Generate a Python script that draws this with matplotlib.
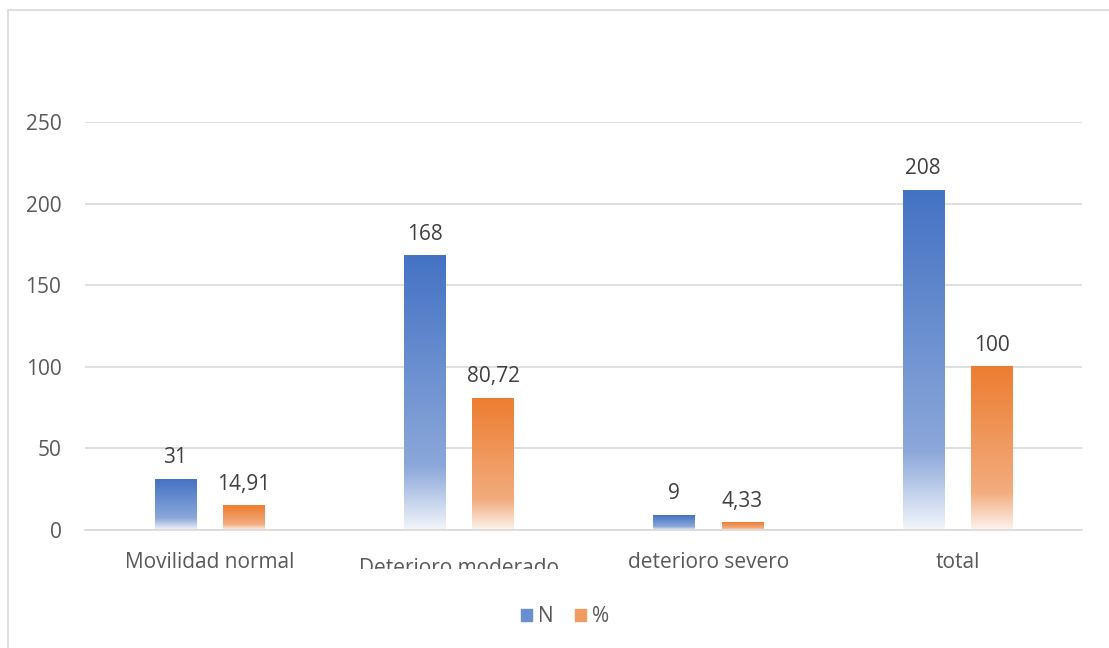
import numpy as np
import matplotlib.pyplot as plt
from matplotlib.colors import LinearSegmentedColormap
from matplotlib.patches import Rectangle
from matplotlib.transforms import ScaledTranslation

categories = ["Movilidad normal", "Deterioro moderado", "deterioro severo", "total"]
n_vals = [31, 168, 9, 208]
pct_vals = [14.91, 80.72, 4.33, 100]
n_labels = ["31", "168", "9", "208"]
pct_labels = ["14,91", "80,72", "4,33", "100"]

plt.rcParams['font.family'] = ['Open Sans', 'DejaVu Sans']

fig = plt.figure(figsize=(11.09, 6.48), dpi=100)
ax = fig.add_axes([85 / 1109, 1 - 530 / 648, 997 / 1109, 408 / 648])

# gradient fills: strong colour at top, lighter towards bottom, fading out near the base
blue_cmap = LinearSegmentedColormap.from_list(
    "nblue", [(0, "#4472C4"), (0.77, "#8CA8DA"), (1.0, "#F2F5FB")])
orange_cmap = LinearSegmentedColormap.from_list(
    "norange", [(0, "#ED7D31"), (0.77, "#F2AC7E"), (1.0, "#FDF4EE")])

x = np.arange(len(categories))
width = 0.165
off = 0.137
bars_n = ax.bar(x - off, n_vals, width, color="none")
bars_p = ax.bar(x + off, pct_vals, width, color="none")

grad = np.linspace(0, 1, 256).reshape(-1, 1)
for bars, cmap in [(bars_n, blue_cmap), (bars_p, orange_cmap)]:
    for r in bars:
        x0, w, h = r.get_x(), r.get_width(), r.get_height()
        ax.imshow(grad, cmap=cmap, aspect="auto", origin="upper",
                  extent=(x0, x0 + w, 0, h), zorder=2, interpolation="bilinear")

for bars, labels in [(bars_n, n_labels), (bars_p, pct_labels)]:
    for r, lab in zip(bars, labels):
        ax.annotate(lab, (r.get_x() + r.get_width() / 2, r.get_height()),
                    xytext=(0, 8), textcoords="offset points", ha="center",
                    va="bottom", fontsize=15, color="#404040")

ax.set_xlim(-0.5, 3.5)
ax.set_ylim(0, 250)
ax.set_yticks([0, 50, 100, 150, 200, 250])
ax.set_xticks(x)
ax.set_xticklabels(categories)
ax.tick_params(axis="both", length=0, labelsize=15, labelcolor="#595959")
ax.tick_params(axis="y", pad=17)
ax.tick_params(axis="x", pad=16)
ax.yaxis.grid(True, color="#D9D9D9", linewidth=1.2)
ax.set_axisbelow(True)
for s in ["top", "right", "left"]:
    ax.spines[s].set_visible(False)
ax.spines["bottom"].set_color("#D9D9D9")
ax.spines["bottom"].set_linewidth(1.2)
ax.set_zorder(1)

# second category label sits a little lower and is cut off at the bottom
lab = ax.get_xticklabels()[1]
lab.set_transform(lab.get_transform() + ScaledTranslation(0, -4 / 72, fig.dpi_scale_trans))
clip = Rectangle((0, 1 - 569 / 648), 1, 1, transform=fig.transFigure)
lab.set_clip_path(clip)

handles = [Rectangle((0, 0), 1, 1, color="#6A8FD0"),
           Rectangle((0, 0), 1, 1, color="#F09B62")]
fig.legend(handles, ["N", "%"], loc="center", bbox_to_anchor=(565 / 1109, 1 - 617 / 648),
           ncol=2, frameon=False, fontsize=15, labelcolor="#595959",
           handlelength=0.55, handleheight=0.55, handletextpad=0.3, columnspacing=1.0)

# light outer frame around the chart
fig.patches.append(Rectangle((8 / 1109, -0.05), 1.1, 1 - 10 / 648 + 0.05,
                             transform=fig.transFigure, fill=False,
                             edgecolor="#D9D9D9", linewidth=1.2))

fig.savefig("out.png", dpi=100)
